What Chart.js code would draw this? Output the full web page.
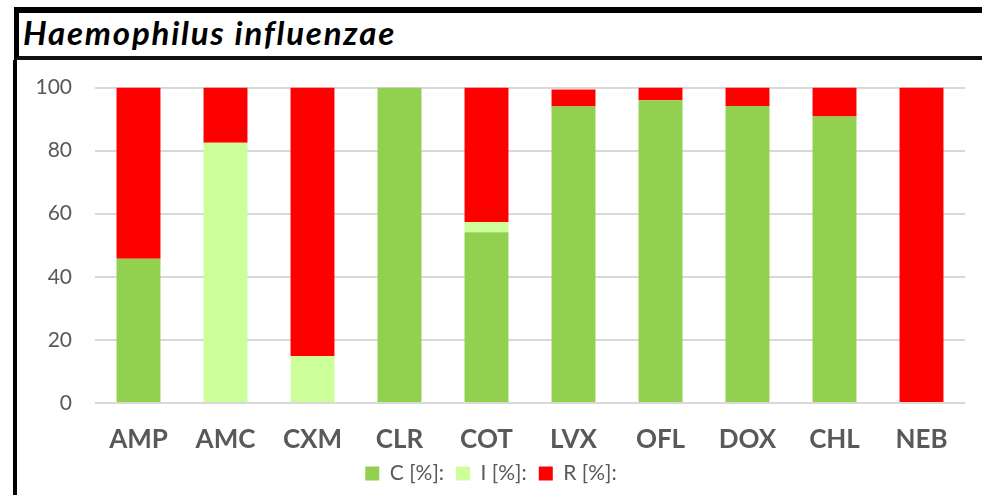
<!DOCTYPE html>
<html>
<head>
<meta charset="utf-8">
<script src="https://cdn.jsdelivr.net/npm/chart.js@4.4.1/dist/chart.umd.min.js"></script>
<style>
  html, body { margin: 0; padding: 0; background: #fff; }
  body { width: 982px; height: 495px; position: relative; overflow: hidden; font-family: Lato, sans-serif; }
  #titleBox {
    position: absolute; left: 14px; top: 7px; width: 980px; height: 43px;
    border-top: 6px solid #000; border-left: 5px solid #000; border-bottom: 4px solid #111;
    box-sizing: content-box;
  }
  #titleBox span {
    position: absolute; left: 4px; top: -1px;
    font: italic bold 33px Lato, sans-serif; letter-spacing: 1.8px; color: #000;
  }
  #chartBox {
    position: absolute; left: 13px; top: 60px; width: 969px; height: 440px;
    border-left: 4px solid #000;
  }
  /* canvas pulled up a little so the plot top lands on the 100 line of the original */
  #chartBox canvas { display: block; position: absolute; left: 0; top: -8px; }
</style>
</head>
<body>
<div id="titleBox"><span>Haemophilus influenzae</span></div>
<div id="chartBox"><canvas id="chart" width="965" height="446"></canvas></div>
<script>
const categories = ['AMP', 'AMC', 'CXM', 'CLR', 'COT', 'LVX', 'OFL', 'DOX', 'CHL', 'NEB'];
const seriesC = [45.7, 0, 0, 100, 54.1, 94.0, 96.0, 94.2, 90.8, 0];
const seriesI = [0, 82.5, 14.8, 0, 3.3, 0, 0, 0, 0, 0];
const seriesR = [54.3, 17.5, 85.2, 0, 42.6, 5.4, 4.0, 5.8, 9.2, 100];
const yTicks = [0, 20, 40, 60, 80, 100];

const textGray = '#595959';

function bar(label, data, color) {
  return {
    label, data,
    backgroundColor: color,
    borderWidth: 0,
    categoryPercentage: 1,
    barPercentage: 0.505
  };
}

new Chart(document.getElementById('chart'), {
  type: 'bar',
  data: {
    labels: categories,
    datasets: [
      bar('C [%]:', seriesC, '#92d050'),
      bar('I [%]:', seriesI, '#ccff99'),
      bar('R [%]:', seriesR, '#ff0000')
    ]
  },
  options: {
    responsive: false,
    animation: false,
    devicePixelRatio: 1,
    layout: { autoPadding: false, padding: { top: 20, right: 17, bottom: 4, left: 0 } },
    plugins: {
      tooltip: { enabled: false },
      legend: {
        position: 'bottom',
        labels: {
          color: textGray,
          font: { family: 'Lato', size: 21 },
          boxWidth: 14, boxHeight: 14,
          padding: 12
        }
      }
    },
    scales: {
      x: {
        stacked: true,
        // tick marks hidden, tickLength only used to push labels down
        grid: { display: false, drawTicks: true, tickLength: 26 },
        border: { display: false },
        ticks: {
          color: textGray,
          font: { family: 'Lato', size: 26, weight: 'bold', lineHeight: 0.85 },
          padding: 0,
          maxRotation: 0
        }
      },
      y: {
        stacked: true,
        min: 0, max: 100,
        afterBuildTicks: (s) => { s.ticks = yTicks.map(v => ({ value: v })); },
        afterFit: (s) => { s.width = 78; },
        grid: { color: '#d9d9d9', lineWidth: 2, drawTicks: false },
        border: { display: false },
        ticks: {
          color: textGray,
          font: { family: 'Lato', size: 21 },
          padding: 23
        }
      }
    }
  }
});
</script>
</body>
</html>
